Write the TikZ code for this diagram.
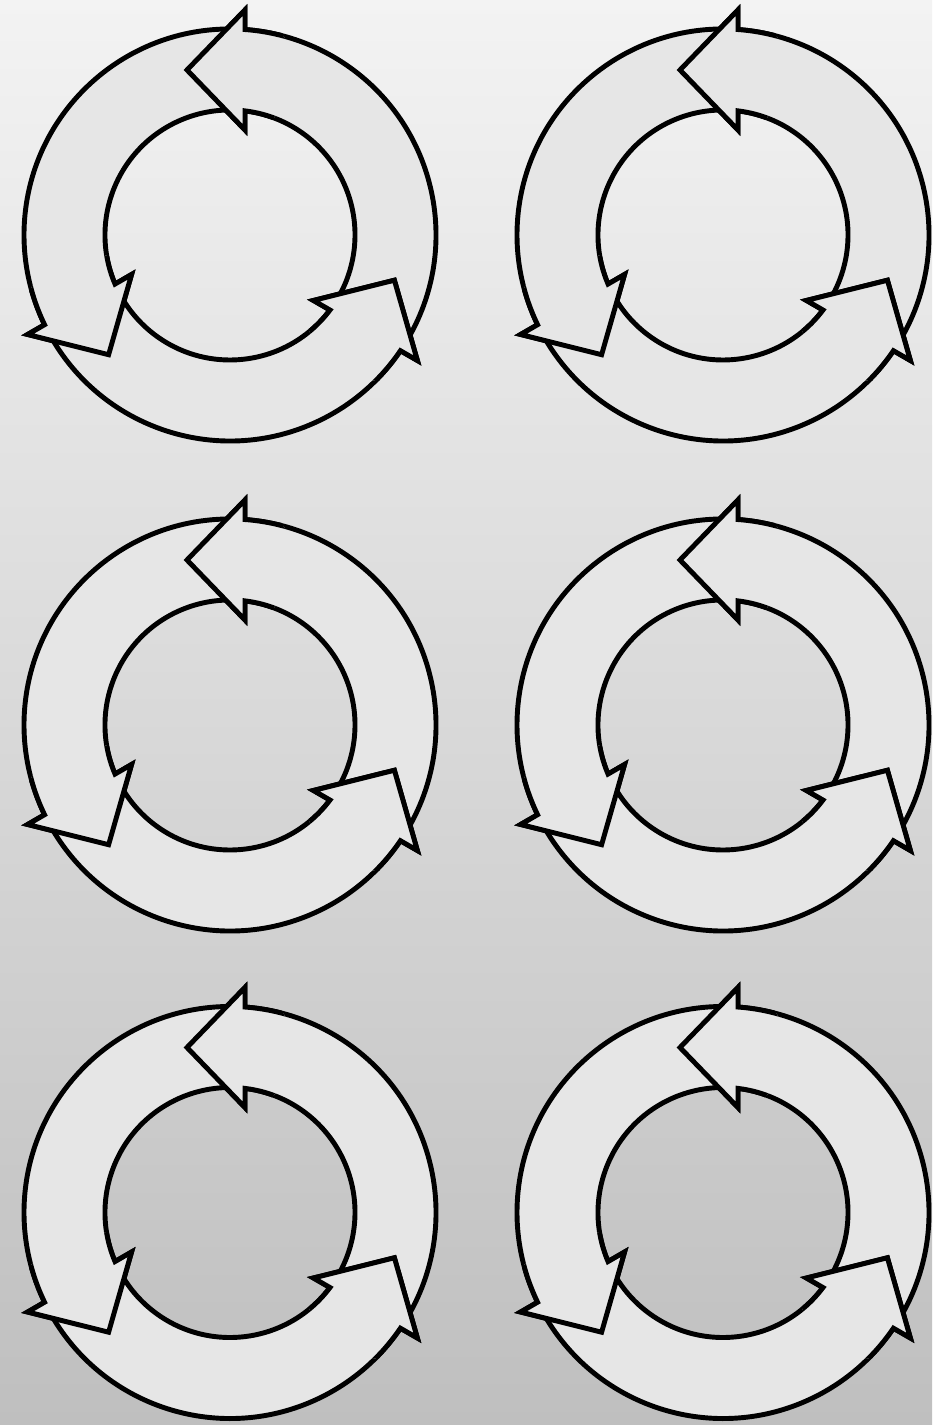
\documentclass[tikz,border=0pt]{standalone}
\usepackage{xcolor}
\usepackage{tikz}
\usetikzlibrary{calc}
\definecolor{bgtop}{HTML}{F3F3F3}
\definecolor{bgbot}{HTML}{BFBFBF}
\definecolor{ringfill}{HTML}{E6E6E6}
\tikzset{
  cyc/.style={draw=black, fill=ringfill, line width=2.8pt, line join=miter},
  bgshade/.style={top color=bgtop, bottom color=bgbot},
}
\newcommand{\cycpath}{(-33:125) -- (-33:206) arc[start angle=-33, end angle=85.82, radius=206]
  -- (15,225) -- (-43,165) -- (15,105) -- (83.11:125) arc[start angle=83.11, end angle=-33, radius=125] -- cycle}

\begin{document}
\begin{tikzpicture}[x=0.02cm, y=0.02cm]
  \useasboundingbox (0,0) rectangle (932,1425);
  \shade[bgshade] (0,0) rectangle (932,1425);
  \foreach \cx/\cy in {230/1190, 723/1190, 230/700, 723/700, 230/212.5, 723/212.5} {
    \begin{scope}[shift={(\cx,\cy)}]
      \foreach \a in {0,120,240}
        \draw[cyc, rotate=\a] \cycpath;
      \foreach \a in {0,120,240} {
        \begin{scope}[rotate=\a]
          \clip (-10,165) circle (72);
          \draw[cyc] \cycpath;
        \end{scope}
      }
    \end{scope}
  }
\end{tikzpicture}
\end{document}
